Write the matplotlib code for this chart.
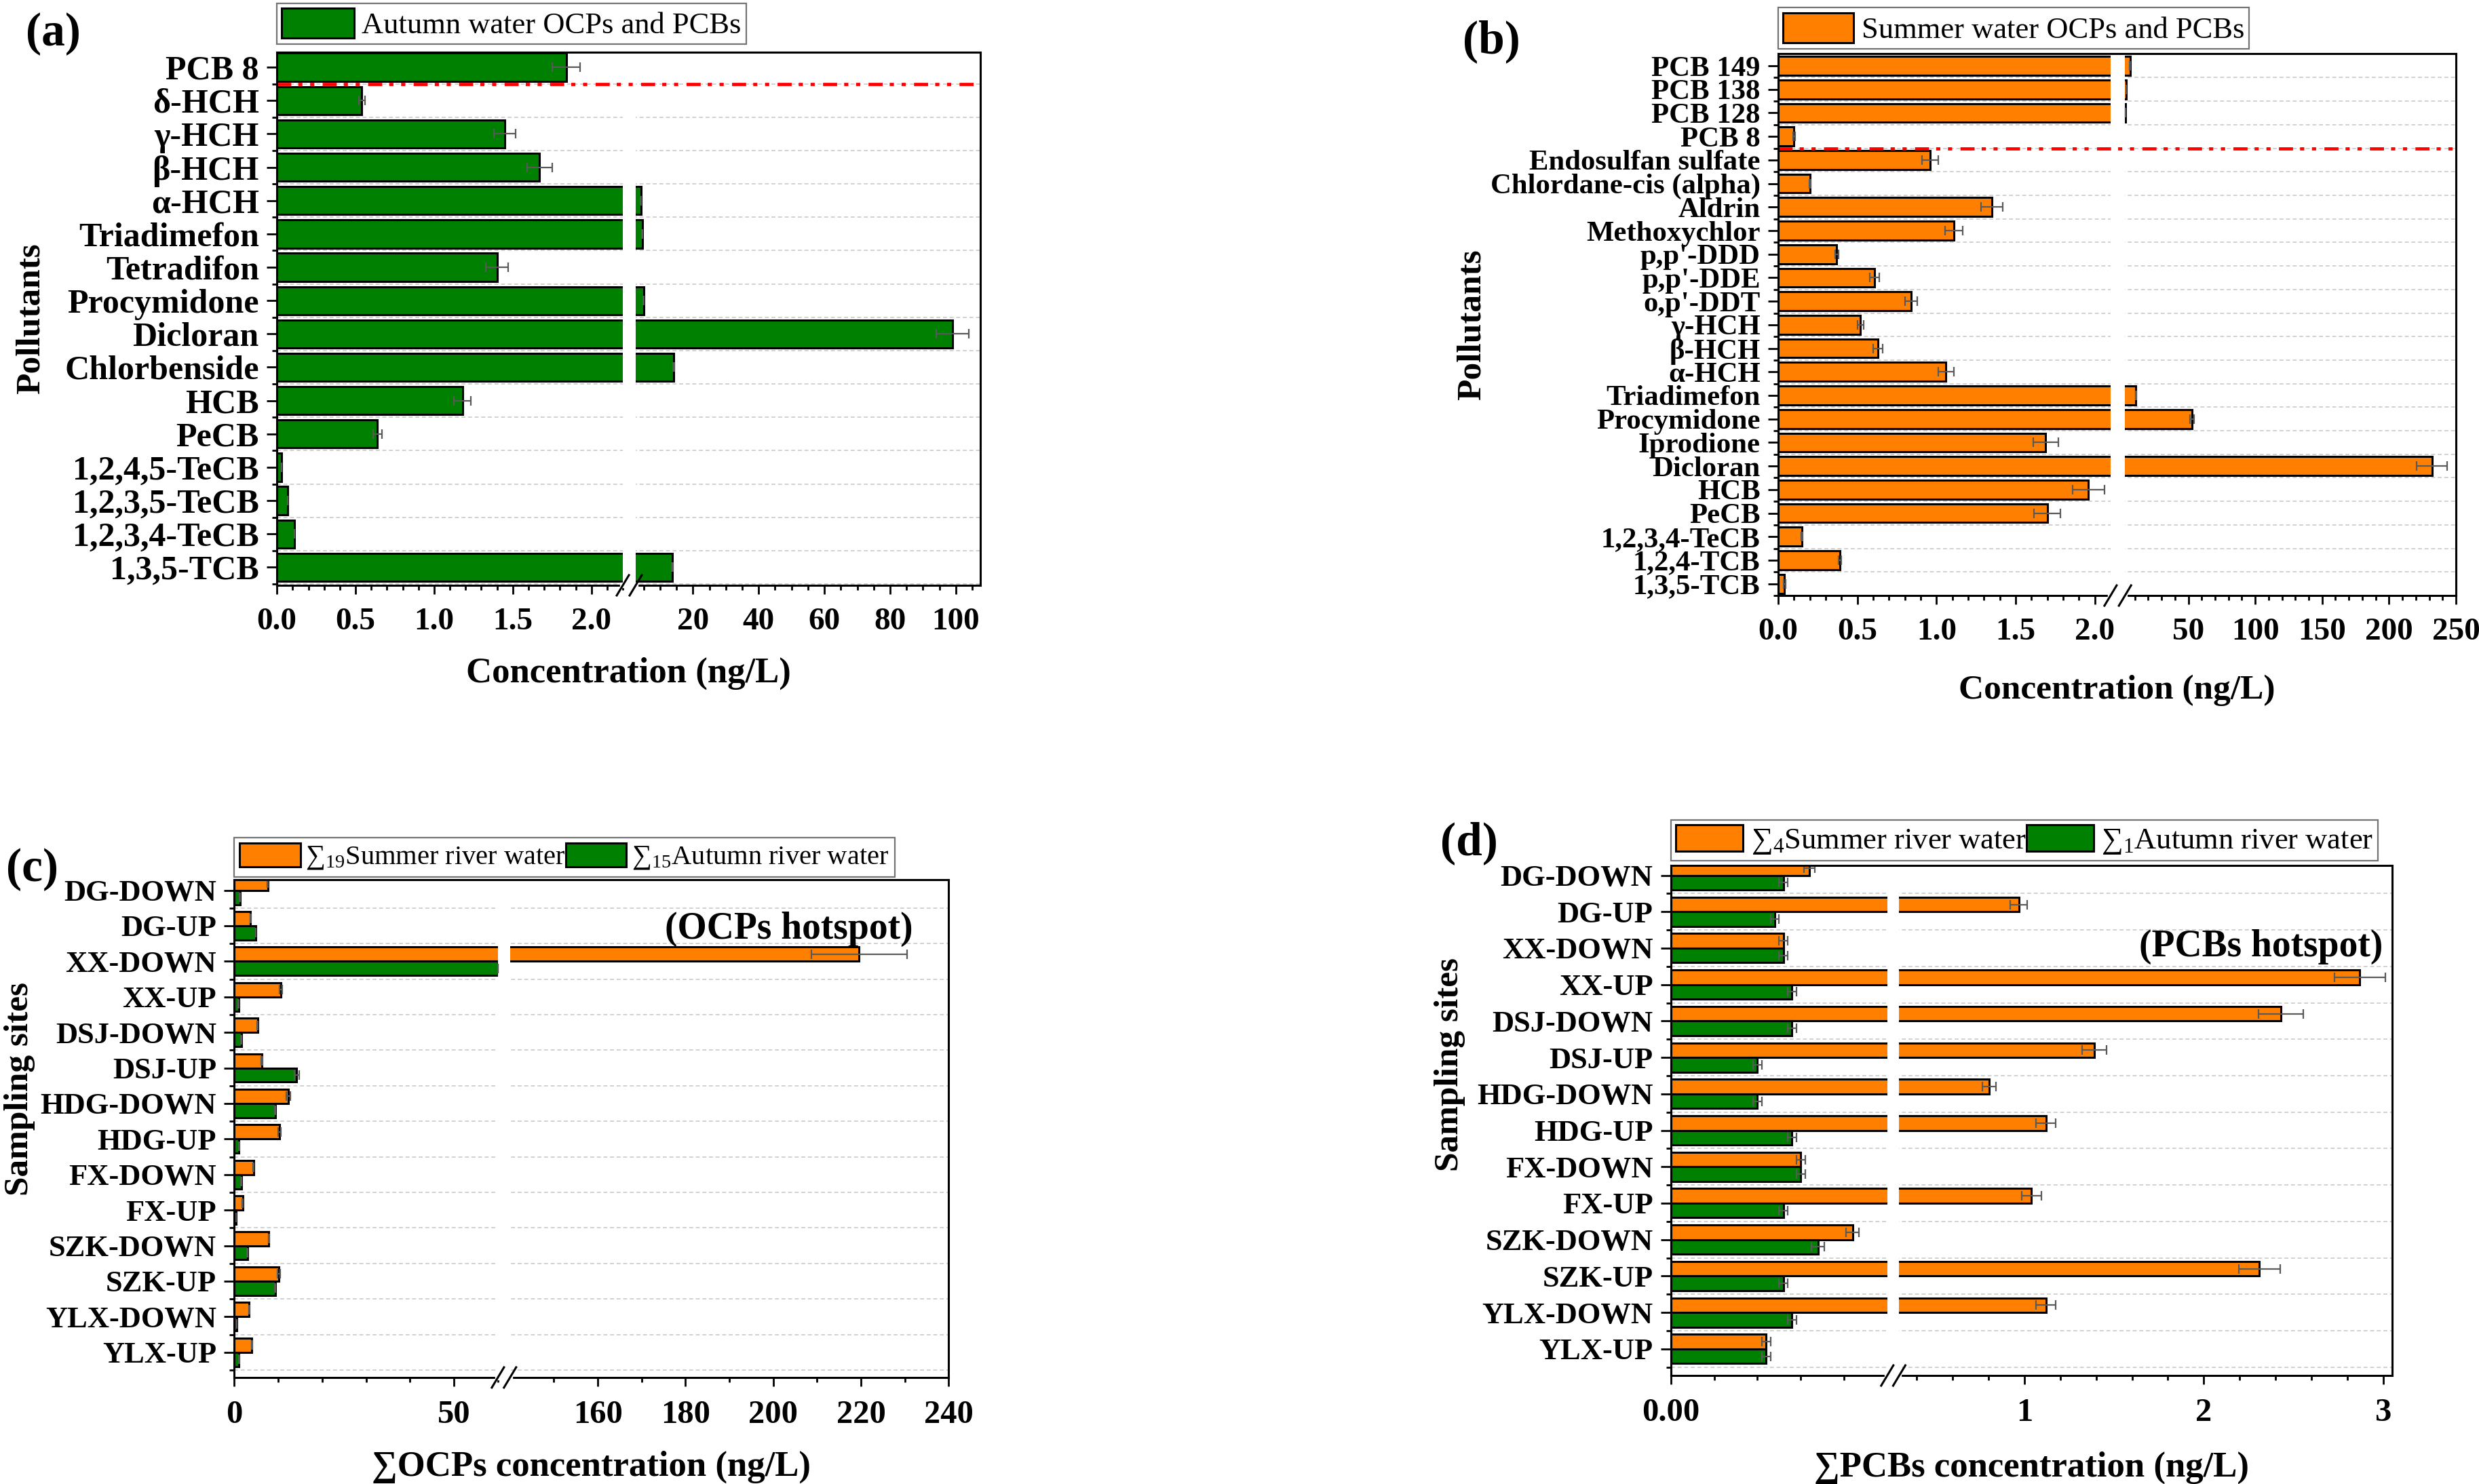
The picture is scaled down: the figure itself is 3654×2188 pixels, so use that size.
import numpy as np
import matplotlib
matplotlib.use("Agg")
import matplotlib.pyplot as plt

plt.rcParams['font.family'] = ['Liberation Serif', 'DejaVu Serif']
plt.rcParams['mathtext.fontset'] = 'custom'
plt.rcParams['mathtext.rm'] = 'Liberation Serif'
plt.rcParams['mathtext.it'] = 'Liberation Serif:italic'
plt.rcParams['mathtext.bf'] = 'Liberation Serif:bold'

GREEN = '#008000'
ORANGE = '#FF8000'

# ---------------- data ----------------
# (a) autumn water, top to bottom
a_labels = ['PCB 8', 'δ-HCH', 'γ-HCH', 'β-HCH', 'α-HCH', 'Triadimefon', 'Tetradifon',
            'Procymidone', 'Dicloran', 'Chlorbenside', 'HCB', 'PeCB', '1,2,4,5-TeCB',
            '1,2,3,5-TeCB', '1,2,3,4-TeCB', '1,3,5-TCB']
a_vals = [1.84, 0.54, 1.45, 1.67, 4.2, 4.6, 1.40, 5.0, 99.0, 14.1, 1.18, 0.64, 0.03, 0.07, 0.11, 13.7]
a_err = [0.09, 0.02, 0.07, 0.08, 0.1, 0.1, 0.07, 0.1, 5.0, 0.2, 0.055, 0.03, 0.0, 0.0, 0.0, 0.2]

# (b) summer water, top to bottom
b_labels = ['PCB 149', 'PCB 138', 'PCB 128', 'PCB 8', 'Endosulfan sulfate', 'Chlordane-cis (alpha)',
            'Aldrin', 'Methoxychlor', "p,p'-DDD", "p,p'-DDE", "o,p'-DDT", 'γ-HCH', 'β-HCH', 'α-HCH',
            'Triadimefon', 'Procymidone', 'Iprodione', 'Dicloran', 'HCB', 'PeCB', '1,2,3,4-TeCB',
            '1,2,4-TCB', '1,3,5-TCB']
b_vals = [6.5, 3.6, 3.1, 0.10, 0.96, 0.20, 1.35, 1.11, 0.37, 0.61, 0.84, 0.52, 0.63, 1.06,
          10.8, 53.0, 1.69, 232.0, 1.96, 1.70, 0.15, 0.39, 0.04]
b_err = [0.3, 0.2, 0.2, 0.005, 0.05, 0.005, 0.07, 0.055, 0.01, 0.03, 0.04, 0.02, 0.03, 0.05,
         0.3, 1.5, 0.08, 11.5, 0.1, 0.085, 0.005, 0.01, 0.005]

# (c)/(d) sampling sites, top to bottom
sites = ['DG-DOWN', 'DG-UP', 'XX-DOWN', 'XX-UP', 'DSJ-DOWN', 'DSJ-UP', 'HDG-DOWN', 'HDG-UP',
         'FX-DOWN', 'FX-UP', 'SZK-DOWN', 'SZK-UP', 'YLX-DOWN', 'YLX-UP']
c_summer = [7.6, 3.7, 219.6, 10.6, 5.3, 6.3, 12.3, 10.3, 4.4, 1.9, 7.9, 10.2, 3.4, 4.0]
c_summer_err = [0.1, 0.1, 10.9, 0.3, 0.1, 0.1, 0.4, 0.3, 0.1, 0.1, 0.1, 0.3, 0.1, 0.1]
c_autumn = [1.3, 4.9, 60.0, 1.0, 1.6, 14.2, 9.3, 1.1, 1.6, 0.4, 3.0, 9.3, 0.6, 1.1]
c_autumn_err = [0.05, 0.05, 0.0, 0.05, 0.05, 0.5, 0.1, 0.05, 0.05, 0.02, 0.05, 0.1, 0.02, 0.05]

d_summer = [0.032, 0.97, 0.026, 2.87, 2.43, 1.39, 0.805, 1.12, 0.030, 1.04, 0.042, 2.31, 1.12, 0.022]
d_summer_err = [0.0012, 0.047, 0.001, 0.14, 0.125, 0.067, 0.037, 0.054, 0.001, 0.054, 0.0015, 0.114, 0.054, 0.001]
d_autumn = [0.026, 0.024, 0.026, 0.028, 0.028, 0.020, 0.020, 0.028, 0.030, 0.026, 0.034, 0.026, 0.028, 0.022]
d_autumn_err = [0.001, 0.001, 0.001, 0.001, 0.001, 0.001, 0.001, 0.001, 0.001, 0.001, 0.0015, 0.001, 0.001, 0.001]


def broken(L1, R0, R1, f1, f2):
    # piecewise linear scale: [0,L1] -> [0,f1], gap, [R0,R1] -> [f2,1]
    def fwd(x):
        x = np.asarray(x, dtype=float)
        return np.where(x <= L1, x * f1 / L1,
                        np.where(x < R0, f1 + (x - L1) * (f2 - f1) / (R0 - L1),
                                 f2 + (x - R0) * (1 - f2) / (R1 - R0)))

    def inv(u):
        u = np.asarray(u, dtype=float)
        return np.where(u <= f1, u * L1 / f1,
                        np.where(u < f2, L1 + (u - f1) * (R0 - L1) / (f2 - f1),
                                 R0 + (u - f2) * (R1 - R0) / (1 - f2)))
    return fwd, inv


def style(ax, brk, major, major_lbl, minor, ylabels, ylab_size, xtick_size=17):
    L1, R0, R1, f1, f2 = brk
    ax.set_xscale('function', functions=broken(L1, R0, R1, f1, f2))
    ax.set_xlim(0, R1)
    ax.set_xticks(major)
    ax.set_xticklabels(major_lbl, fontsize=xtick_size, fontweight='bold')
    ax.set_xticks(minor, minor=True)
    n = len(ylabels)
    ax.set_yticks(np.arange(n))
    ax.set_yticklabels(ylabels, fontsize=ylab_size, fontweight='bold')
    ax.set_yticks(np.arange(n) + 0.5, minor=True)
    ax.grid(axis='y', which='minor', color='0.82', ls=(0, (3, 2)), lw=0.7)
    ax.set_axisbelow(True)
    ax.tick_params(axis='x', which='major', length=4.5, width=1.0, pad=7.5)
    ax.tick_params(axis='x', which='minor', length=2.5, width=1.0)
    ax.tick_params(axis='y', which='major', length=5.5, width=1.0, pad=4)
    ax.tick_params(axis='y', which='minor', length=2.5, width=1.0)
    for s in ax.spines.values():
        s.set_linewidth(1.1)
        s.set_zorder(5)
    # white gap through the bars and // marks on the bottom axis
    ax.axvspan(L1, R0, color='white', lw=0, zorder=3)
    bb = ax.get_position()
    W = bb.width * fig.get_figwidth() * fig.dpi
    H = bb.height * fig.get_figheight() * fig.dpi
    dx, dy = 9.0 / W, 15.0 / H
    ax.plot([f1, f2], [0, 0], transform=ax.transAxes, color='white', lw=3, zorder=6, clip_on=False)
    for f in (f1, f2):
        ax.plot([f - dx, f + dx], [-dy, dy], transform=ax.transAxes, color='k', lw=1.1,
                zorder=7, clip_on=False)


err_kw = dict(ecolor='0.35', elinewidth=0.8, capsize=2.5, capthick=0.8, zorder=4)
bar_kw = dict(edgecolor='k', linewidth=1.1, zorder=2)
red_ls = (0, (4.4, 2.2, 1.3, 2.4, 1.3, 2.6))

fig = plt.figure(figsize=(18.27, 10.94), dpi=200)

# ---------------- (a) ----------------
axa = fig.add_axes([0.1117, 0.6056, 0.2838, 0.3592])
ya = np.arange(len(a_labels))
axa.barh(ya, a_vals, height=0.84, color=GREEN, xerr=a_err, error_kw=err_kw,
         label='Autumn water OCPs and PCBs', **bar_kw)
axa.set_ylim(15.54, -0.45)
style(axa, (2.2, 2.6, 107.5, 0.4917, 0.510),
      [0, 0.5, 1.0, 1.5, 2.0, 20, 40, 60, 80, 100],
      ['0.0', '0.5', '1.0', '1.5', '2.0', '20', '40', '60', '80', '100'],
      [x / 10 for x in range(1, 23) if x % 5] + [v for v in range(5, 106, 5) if v % 20],
      a_labels, 18)
axa.axhline(0.5, color='red', ls=red_ls, lw=1.7, zorder=3.5)
axa.set_xlabel('Concentration (ng/L)', fontsize=19, fontweight='bold', va='center')
axa.xaxis.set_label_coords(0.50, -0.165)
axa.set_ylabel('Pollutants', fontsize=18.5, fontweight='bold', va='center')
axa.yaxis.set_label_coords(-0.35, 0.5)
axa.legend(loc='lower left', bbox_to_anchor=(0, 1.015), borderaxespad=0, fancybox=False,
           edgecolor='0.45', framealpha=1, prop={'size': 16}, handlelength=2.4,
           handleheight=1.15, handletextpad=0.26, borderpad=0.16).get_frame().set_linewidth(0.8)

# ---------------- (b) ----------------
axb = fig.add_axes([0.7173, 0.5987, 0.2734, 0.3652])
yb = np.arange(len(b_labels))
axb.barh(yb, b_vals, height=0.8, color=ORANGE, xerr=b_err, error_kw=err_kw,
         label='Summer water OCPs and PCBs', **bar_kw)
axb.set_ylim(22.43, -0.52)
style(axb, (2.1, 2.7, 250, 0.4904, 0.5117),
      [0, 0.5, 1.0, 1.5, 2.0, 50, 100, 150, 200, 250],
      ['0.0', '0.5', '1.0', '1.5', '2.0', '50', '100', '150', '200', '250'],
      [x / 10 for x in range(1, 21) if x % 5] + [v for v in range(10, 250, 10) if v % 50],
      b_labels, 15.4)
axb.axhline(3.5, color='red', ls=red_ls, lw=1.7, zorder=3.5)
axb.set_xlabel('Concentration (ng/L)', fontsize=18.5, fontweight='bold', va='center')
axb.xaxis.set_label_coords(0.50, -0.175)
axb.set_ylabel('Pollutants', fontsize=18.5, fontweight='bold', va='center')
axb.yaxis.set_label_coords(-0.452, 0.5)
axb.legend(loc='lower left', bbox_to_anchor=(0, 1.009), borderaxespad=0, fancybox=False,
           edgecolor='0.45', framealpha=1, prop={'size': 16}, handlelength=2.34,
           handleheight=1.15, handletextpad=0.26, borderpad=0.16).get_frame().set_linewidth(0.8)

# ---------------- (c) ----------------
axc = fig.add_axes([0.0945, 0.0718, 0.2882, 0.3355])
ys = np.arange(len(sites))
axc.barh(ys - 0.2, c_summer, height=0.40, color=ORANGE, xerr=c_summer_err, error_kw=err_kw,
         label='$\\mathregular{∑_{19}}$Summer river water', **bar_kw)
axc.barh(ys + 0.2, c_autumn, height=0.40, color=GREEN, xerr=c_autumn_err, error_kw=err_kw,
         label='$\\mathregular{∑_{15}}$Autumn river water', **bar_kw)
axc.set_ylim(13.71, -0.30)
style(axc, (60, 140, 240, 0.369, 0.386),
      [0, 50, 160, 180, 200, 220, 240],
      ['0', '50', '160', '180', '200', '220', '240'],
      [10, 20, 30, 40, 60, 150, 170, 190, 210, 230],
      sites, 16, 17.5)
axc.text(0.95, 0.90, '(OCPs hotspot)', transform=axc.transAxes, ha='right', va='center',
         fontsize=20, fontweight='bold')
axc.set_xlabel('∑OCPs concentration (ng/L)', fontsize=19, fontweight='bold', va='center')
axc.xaxis.set_label_coords(0.50, -0.18)
axc.set_ylabel('Sampling sites', fontsize=18.5, fontweight='bold', va='center')
axc.yaxis.set_label_coords(-0.30, 0.58)
axc.legend(loc='lower left', bbox_to_anchor=(0, 1.005), borderaxespad=0, fancybox=False,
           edgecolor='0.45', framealpha=1, prop={'size': 14.6}, ncol=2, columnspacing=0.0,
           handlelength=2.2, handleheight=0.96, handletextpad=0.19,
           borderpad=0.2).get_frame().set_linewidth(0.8)

# ---------------- (d) ----------------
axd = fig.add_axes([0.674, 0.0731, 0.291, 0.3437])
axd.barh(ys - 0.2, d_summer, height=0.40, color=ORANGE, xerr=d_summer_err, error_kw=err_kw,
         label='$\\mathregular{∑_{4}}$Summer river water', **bar_kw)
axd.barh(ys + 0.2, d_autumn, height=0.40, color=GREEN, xerr=d_autumn_err, error_kw=err_kw,
         label='$\\mathregular{∑_{1}}$Autumn river water', **bar_kw)
axd.set_ylim(13.73, -0.27)
style(axd, (0.05, 0.303, 3.05, 0.300, 0.3166),
      [0, 1, 2, 3],
      ['0.00', '1', '2', '3'],
      [0.01, 0.02, 0.03, 0.04, 0.4, 0.6, 0.8, 1.2, 1.4, 1.6, 1.8, 2.2, 2.4, 2.6, 2.8],
      sites, 16, 17.5)
axd.text(0.987, 0.84, '(PCBs hotspot)', transform=axd.transAxes, ha='right', va='center',
         fontsize=20, fontweight='bold')
axd.set_xlabel('∑PCBs concentration (ng/L)', fontsize=19, fontweight='bold', va='center')
axd.xaxis.set_label_coords(0.50, -0.18)
axd.set_ylabel('Sampling sites', fontsize=18.5, fontweight='bold', va='center')
axd.yaxis.set_label_coords(-0.306, 0.61)
axd.legend(loc='lower left', bbox_to_anchor=(0, 1.009), borderaxespad=0, fancybox=False,
           edgecolor='0.45', framealpha=1, prop={'size': 16}, ncol=2, columnspacing=0.0,
           handlelength=2.23, handleheight=0.97, handletextpad=0.26,
           borderpad=0.16).get_frame().set_linewidth(0.8)

# panel letters
for x, y, t in [(0.0104, 0.977, '(a)'), (0.590, 0.972, '(b)'),
                (0.0025, 0.414, '(c)'), (0.581, 0.432, '(d)')]:
    fig.text(x, y, t, fontsize=25, fontweight='bold', ha='left', va='center')

fig.savefig('out.png', dpi=200)
